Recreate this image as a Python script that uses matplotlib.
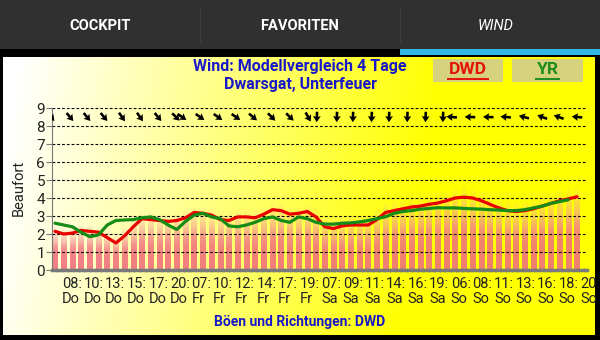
import matplotlib.pyplot as plt
import numpy as np
from matplotlib.patches import Rectangle

plt.rcParams['font.family'] = ['Roboto', 'DejaVu Sans']

# Windstaerke in Beaufort, eine Messung pro Balken
dwd = [2.15, 2.0, 2.05, 2.2, 2.15, 2.1, 1.8, 1.5, 1.9, 2.4,
       2.85, 2.8, 2.75, 2.7, 2.75, 2.9, 3.2, 3.15, 3.05, 2.8,
       2.75, 2.95, 2.95, 2.9, 3.1, 3.35, 3.3, 3.1, 3.15, 3.25,
       2.95, 2.4, 2.3, 2.45, 2.5, 2.5, 2.5, 2.8, 3.2, 3.3,
       3.4, 3.5, 3.55, 3.65, 3.72, 3.85, 4.0, 4.05, 4.0, 3.85,
       3.65, 3.45, 3.3, 3.25, 3.3, 3.4, 3.55, 3.7, 3.85, 3.95, 4.07]
yr = [2.6, 2.5, 2.4, 2.1, 1.85, 1.95, 2.5, 2.75, 2.78, 2.8,
      2.9, 2.95, 2.8, 2.5, 2.25, 2.7, 3.05, 3.15, 2.95, 2.85,
      2.45, 2.4, 2.5, 2.65, 2.85, 2.95, 2.75, 2.65, 2.95, 2.85,
      2.65, 2.55, 2.55, 2.6, 2.62, 2.67, 2.75, 2.85, 2.96, 3.15,
      3.25, 3.3, 3.38, 3.42, 3.46, 3.45, 3.45, 3.42, 3.4, 3.38,
      3.35, 3.33, 3.3, 3.3, 3.35, 3.45, 3.55, 3.7, 3.8, 3.9]
boeen = [2.5, 2.4, 2.5, 2.6, 2.6, 2.5, 2.3, 2.1, 2.5, 2.9,
         3.3, 3.3, 3.2, 3.2, 3.3, 3.4, 3.6, 3.6, 3.5, 3.3,
         3.3, 3.4, 3.4, 3.4, 3.6, 3.8, 3.8, 3.6, 3.6, 3.7,
         3.5, 3.0, 2.9, 3.0, 3.1, 3.1, 3.1, 3.4, 3.8, 3.9,
         4.0, 4.1, 4.2, 4.3, 4.4, 4.5, 4.7, 4.8, 4.7, 4.5,
         4.3, 4.1, 4.0, 3.9, 4.0, 4.1, 4.3, 4.4, 4.6, 4.7, 4.8]

# Richtungspfeile (Position auf der Zeitachse, Richtung in Grad)
pfeil_x = [-0.46, 1.72, 3.68, 5.63, 7.7, 9.77, 11.84, 13.9,
           14.6, 16.67, 18.74, 20.8, 22.76, 24.9, 27.0, 29.1,
           30.1, 32.4, 34.25, 36.4, 38.4, 40.5, 42.6, 44.6,
           45.6, 47.7, 49.8, 51.8, 53.9, 56.0, 57.9, 60.0]
pfeil_dir = [-50, -50, -50, -50, -55, -55, -50, -45,
             -35, -35, -35, -35, -40, -45, -45, -60,
             -92, -92, -92, -92, -92, -92, -92, -92,
             175, 178, 178, 175, 165, 160, 160, 175]

stunden = ["08", "10", "13", "15", "17", "20", "07", "10", "12", "14", "17", "19",
           "07", "09", "11", "14", "16", "19", "06", "08", "11", "13", "16", "18", "20"]
tage = ["Do"] * 6 + ["Fr"] * 6 + ["Sa"] * 6 + ["So"] * 7

blau = '#1818c8'

fig = plt.figure(figsize=(6, 3.4), dpi=100, facecolor='black')

# Hintergrund in Pixelkoordinaten
bg = fig.add_axes([0, 0, 1, 1])
bg.axis('off')
bg.add_patch(Rectangle((0, 0), 600, 49, color='#303030', lw=0))
bg.add_patch(Rectangle((400, 49), 200, 6, color='#33b5e5', lw=0))
for sx in (200, 400):
    bg.plot([sx, sx], [8, 42], color='#3d3d3d', lw=1)
bg.text(100, 26, "COCKPIT", color='white', fontsize=10.5, weight='bold', ha='center', va='center')
bg.text(300, 26, "FAVORITEN", color='white', fontsize=10.5, weight='bold', ha='center', va='center')
bg.text(496, 26, "WIND", color='white', fontsize=10.5, style='italic', ha='center', va='center')

xs = np.linspace(0, 1, 300)
ys = np.linspace(0, 1, 60)
t = np.clip(xs[None, :] / 0.72 + 0.1 * ys[:, None] - 0.04, 0, 1)
grad = np.ones((60, 300, 3))
grad[:, :, 2] = 1 - t
bg.imshow(grad, extent=(3, 595, 335, 57), aspect='auto', interpolation='bilinear')

bg.add_patch(Rectangle((433, 59), 70, 23, fc='#d6d17c', lw=0))
bg.add_patch(Rectangle((512, 59), 71, 23, fc='#d6d17c', lw=0))
bg.text(468, 70, "DWD", color='#e3120b', fontsize=12.5, weight='bold', ha='center', va='center')
bg.plot([448, 488], [79, 79], color='#e3120b', lw=1.4)
bg.text(547.5, 70, "YR", color='#1e8c1e', fontsize=12.5, weight='bold', ha='center', va='center')
bg.plot([536, 559], [79, 79], color='#1e8c1e', lw=1.4)

bg.text(300, 67, "Wind: Modellvergleich 4 Tage", color=blau, fontsize=11.5, weight='bold', ha='center', va='center')
bg.text(300, 84, "Dwarsgat, Unterfeuer", color=blau, fontsize=11.5, weight='bold', ha='center', va='center')
bg.text(300, 322, "Böen und Richtungen: DWD", color=blau, fontsize=10, weight='bold', ha='center', va='center')
bg.text(19, 188, "Beaufort", color='#222222', fontsize=10.5, rotation=90, ha='center', va='center')
bg.set_xlim(0, 600)
bg.set_ylim(340, 0)

# Diagramm
ax = fig.add_axes([52 / 600, 70 / 340, 535 / 600, 162 / 340])
ax.patch.set_alpha(0)

n = 64
s = np.linspace(0, 1, n)
alpha = np.where(s < 0.5, 0.9 - 0.1 * s, np.clip(0.85 * (1 - s) / 0.5, 0, 1))
mix = np.clip((s - 0.35) / 0.65, 0, 1)
col = np.zeros((n, 1, 4))
col[:, 0, 0] = (240 + 10 * mix) / 255
col[:, 0, 1] = (112 + 80 * mix) / 255
col[:, 0, 2] = (125 + 50 * mix) / 255
col[:, 0, 3] = alpha
for i, g in enumerate(boeen):
    ax.imshow(col, extent=(i - 0.32, i + 0.32, 0, g), origin='lower', aspect='auto',
              interpolation='bilinear', zorder=0)

x = np.arange(len(dwd))
ax.plot(x, dwd, color='#e60000', lw=2.3, solid_capstyle='round', solid_joinstyle='round', zorder=3)
ax.plot(np.arange(len(yr)), yr, color='#168c16', lw=2.3, solid_capstyle='round', solid_joinstyle='round', zorder=4)

w = np.radians(pfeil_dir)
ax.quiver(pfeil_x, [8.5] * len(pfeil_x), np.cos(w), np.sin(w), angles='uv', pivot='middle',
          units='dots', scale_units='dots', scale=1 / 10.5, width=2.6, headwidth=3.0,
          headlength=2.4, headaxislength=2.1, color='black', zorder=5)

ax.set_xlim(-0.345, 61.15)
ax.set_ylim(0, 9)
ax.set_yticks(range(10))
ax.yaxis.grid(True, color='black', linestyle=(0, (2.5, 1.8)), lw=0.8)
ax.tick_params(axis='y', labelsize=11, labelcolor='#222222', color='#777777', length=4, pad=1)

tick_pos = [0.8 + 2.483 * k for k in range(len(stunden))]
ax.set_xticks(tick_pos)
ax.set_xticklabels([f"{h}:\n{d}" for h, d in zip(stunden, tage)], fontsize=10.5, color='#222222',
                   linespacing=1.1)
for lab in ax.get_xticklabels():
    lab.set_horizontalalignment('left')
    lab.set_multialignment('left')
ax.tick_params(axis='x', length=0, pad=5)

for side in ('top', 'right'):
    ax.spines[side].set_visible(False)
ax.spines['left'].set_color('#777777')
ax.spines['bottom'].set_color('#7a7a7a')
ax.spines['bottom'].set_linewidth(2.5)
ax.spines['bottom'].set_linestyle((0, (1, 0.6)))

fig.savefig('out.png', dpi=100, facecolor='black')
